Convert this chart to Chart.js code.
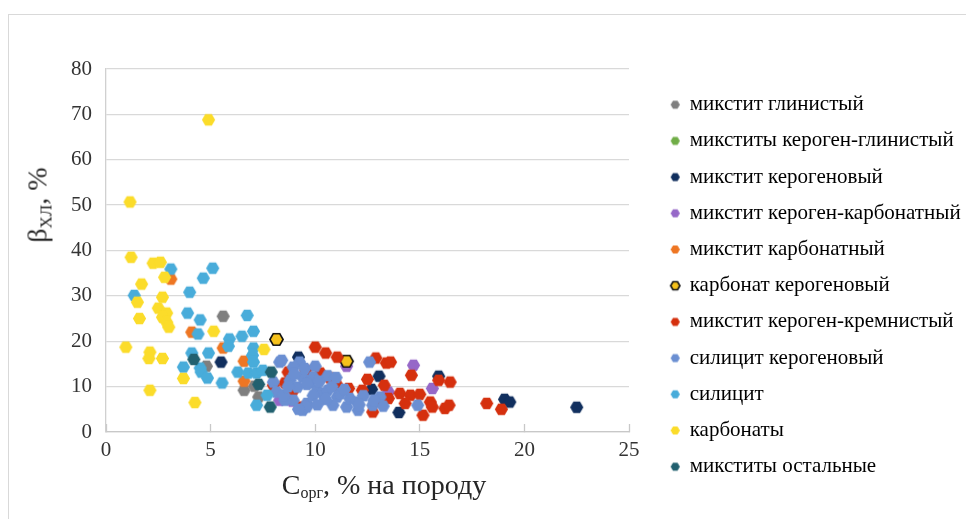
<!DOCTYPE html>
<html>
<head>
<meta charset="utf-8">
<script src="https://cdn.jsdelivr.net/npm/chart.js@4"></script>
<style>
  html, body { margin: 0; padding: 0; background: #fff; overflow: hidden; }
  #wrap { position: relative; width: 966px; height: 519px; }
  #frame { position: absolute; left: 8px; top: 14px; width: 1000px; height: 600px; border: 1px solid #d9d9d9; }
  canvas { position: absolute; left: 0; top: 0; }
  .ttl { position: absolute; font-family: "Liberation Serif", serif; color: #262626; white-space: nowrap; line-height: 1; }
  #xTitle { left: 384px; top: 471px; font-size: 28px; transform: translateX(-50%); }
  #xTitle sub { font-size: 16px; vertical-align: -4px; }
  #yTitle { left: 39px; top: 205px; font-size: 28px; transform: translate(-50%, -50%) rotate(-90deg); }
  #yTitle sub { font-size: 17px; vertical-align: -5px; }
</style>
</head>
<body>
<div id="wrap">
  <div id="frame"></div>
  <canvas id="scatter" width="966" height="519"></canvas>
  <div class="ttl" id="xTitle">C<sub>орг</sub>, % на породу</div>
  <div class="ttl" id="yTitle">β<sub>ХЛ</sub>, %</div>
</div>
<script>
"use strict";

// series names (legend order)
var seriesNames = [
    "микстит глинистый",
    "микститы кероген-глинистый",
    "микстит керогеновый",
    "микстит кероген-карбонатный",
    "микстит карбонатный",
    "карбонат керогеновый",
    "микстит кероген-кремнистый",
    "силицит керогеновый",
    "силицит",
    "карбонаты",
    "микститы остальные"
];

// [Сорг, βХЛ] pairs
var mixClay = [[5.6, 25.5], [4.8, 14.5], [6.6, 9.2], [7.1, 10.1], [7.3, 7.7]];
var mixKerClay = [];
var mixKer = [[5.5, 15.4], [9.2, 16.5], [13.05, 12.3], [15.9, 12.3], [14.0, 4.3], [19.05, 7.2],
    [19.3, 6.6], [22.5, 5.45], [12.7, 9.4]];
var mixKerCarb = [[11.5, 14.5], [14.7, 14.7], [15.6, 9.6], [13.5, 8.8], [8.3, 7.0], [8.9, 6.8]];
var mixCarb = [[3.1, 33.7], [4.1, 22.0], [5.6, 18.5], [6.6, 15.6], [6.6, 11.2]];
var carbKer = [[8.15, 20.4], [11.5, 15.6]];
var mixKerSil = [[10.0, 18.7], [10.5, 17.4], [11.05, 16.5], [12.9, 16.3], [13.4, 15.2], [12.5, 11.6],
    [13.3, 10.3], [11.6, 9.6], [12.25, 9.2], [10.25, 13.0], [10.7, 11.9], [11.05, 10.3], [8.7, 13.2],
    [8.55, 10.8], [9.35, 5.5], [12.75, 4.4], [13.1, 7.0], [13.5, 7.4], [14.6, 12.5], [13.6, 15.4],
    [15.9, 11.4], [16.45, 11.0], [14.05, 8.5], [14.55, 8.1], [15.0, 8.3], [14.3, 6.3], [15.5, 6.6],
    [15.6, 5.5], [15.15, 3.7], [16.2, 5.2], [16.4, 5.9], [18.2, 6.3], [18.9, 5.0], [8.0, 10.3],
    [8.95, 9.2], [9.55, 13.6]];
var silKer = [[8.3, 15.4], [8.0, 11.0], [9.25, 15.4], [8.95, 14.3], [8.8, 11.4], [9.15, 9.9],
    [9.4, 12.1], [9.75, 10.8], [10.1, 9.2], [10.35, 8.5], [11.05, 7.7], [10.85, 5.9], [9.6, 6.3],
    [8.95, 7.0], [8.55, 7.0], [11.5, 5.5], [12.05, 4.8], [11.65, 7.4], [12.0, 6.6], [12.6, 15.4],
    [12.75, 5.9], [13.1, 7.7], [13.25, 5.7], [8.15, 8.8], [9.4, 4.8], [8.4, 15.8], [9.6, 5.5],
    [9.9, 12.1], [10.6, 9.2], [11.2, 8.5], [9.6, 10.5], [10.2, 11.2], [10.6, 12.4], [9.0, 12.8],
    [9.9, 8.0], [10.5, 7.2], [11.4, 9.4], [12.3, 8.0], [12.8, 7.0], [9.2, 5.0], [10.1, 6.0],
    [11.0, 12.0], [8.5, 8.2], [9.5, 14.0], [10.0, 14.5], [8.7, 10.0], [10.8, 10.0], [12.1, 6.0],
    [14.9, 5.9]];
var silicite = [[3.1, 35.9], [4.65, 33.9], [5.1, 36.1], [4.0, 30.8], [1.35, 30.1], [3.9, 26.2],
    [4.5, 24.7], [6.75, 25.7], [4.4, 21.6], [7.05, 22.2], [6.5, 21.1], [5.9, 20.5], [5.85, 18.9],
    [4.1, 17.4], [4.9, 17.4], [7.05, 18.5], [7.0, 16.9], [7.05, 15.4], [3.7, 14.3], [4.5, 14.1],
    [4.55, 13.2], [4.85, 11.9], [5.55, 10.8], [6.3, 13.2], [6.8, 13.0], [7.2, 13.0], [7.5, 13.6],
    [7.7, 8.1], [7.2, 5.9]];
var carbonates = [[4.9, 68.8], [1.15, 50.7], [1.2, 38.5], [2.25, 37.2], [2.6, 37.4], [2.8, 34.1],
    [1.7, 32.6], [2.7, 29.7], [1.5, 28.6], [2.5, 27.3], [2.9, 26.2], [1.6, 25.0], [2.7, 25.3],
    [2.9, 24.2], [3.0, 23.1], [5.15, 22.2], [0.95, 18.7], [2.1, 17.6], [2.05, 16.2], [2.7, 16.2],
    [3.7, 11.8], [2.1, 9.2], [4.25, 6.5], [7.55, 18.2]];
var mixOther = [[4.2, 16.0], [7.9, 13.2], [7.3, 10.5], [7.85, 5.5]];

var seriesData = [mixClay, mixKerClay, mixKer, mixKerCarb, mixCarb, carbKer,
    mixKerSil, silKer, silicite, carbonates, mixOther];
var seriesColors = ["#7f7f7f", "#70ad47", "#112f5e", "#9668c8", "#ee7623", "#f6c21c",
    "#d5300e", "#6b8fd2", "#48acda", "#fbdc2a", "#21606f"];
var seriesBorders = [null, null, null, null, null, "#111111", null, null, null, null, null];

var xTicks = [0, 5, 10, 15, 20, 25];
var yTicks = [0, 10, 20, 30, 40, 50, 60, 70, 80];

// flat-topped hexagon drawn on a small canvas, used as point style
function hexMarker(fill, stroke, r) {
    var size = Math.ceil(r * 2 + 3);
    var c = document.createElement("canvas");
    c.width = size;
    c.height = size;
    var g = c.getContext("2d");
    g.beginPath();
    for (var i = 0; i < 6; i++) {
        var a = Math.PI / 3 * i;
        var px = size / 2 + r * Math.cos(a);
        var py = size / 2 + r * Math.sin(a);
        if (i === 0) g.moveTo(px, py); else g.lineTo(px, py);
    }
    g.closePath();
    g.fillStyle = fill;
    g.fill();
    if (stroke) {
        g.lineWidth = 1.6;
        g.strokeStyle = stroke;
        g.stroke();
    }
    return c;
}

var datasets = [];
var legendIcons = [];
for (var i = 0; i < seriesNames.length; i++) {
    datasets.push({
        label: seriesNames[i],
        data: seriesData[i].map(function (p) { return { x: p[0], y: p[1] }; }),
        backgroundColor: seriesColors[i],
        pointStyle: hexMarker(seriesColors[i], seriesBorders[i], 6.6),
        order: seriesNames.length - i   // later series on top, like the original
    });
    legendIcons.push(hexMarker(seriesColors[i], seriesBorders[i], 4.6));
}

// keep the legend where the original has it
var legendPlace = {
    id: "legendPlace",
    beforeInit: function (chart) {
        var fit = chart.legend.fit;
        chart.legend.fit = function () {
            fit.call(this);
            this.width = 337;
        };
    },
    afterLayout: function (chart) {
        chart.legend.left = 656;
        chart.legend.top = 79;
    }
};

var serif = "'Liberation Serif', 'Times New Roman', serif";

new Chart(document.getElementById("scatter"), {
    type: "scatter",
    data: { datasets: datasets },
    options: {
        responsive: false,
        animation: false,
        layout: { padding: { top: 69, left: 8, right: 0, bottom: 17 } },
        elements: { point: { radius: 6.6, hoverRadius: 6.6 } },
        scales: {
            x: {
                type: "linear",
                min: 0,
                max: 25,
                afterFit: function (scale) { scale.height = 70; },
                afterBuildTicks: function (scale) {
                    scale.ticks = xTicks.map(function (v) { return { value: v }; });
                },
                grid: { drawOnChartArea: false, drawTicks: true, tickLength: -8, tickColor: "#c8c8c8", tickWidth: 1.3 },
                border: { display: true, color: "#c8c8c8", width: 1.3 },
                ticks: { padding: 14, color: "#333", font: { family: serif, size: 21 } }
            },
            y: {
                type: "linear",
                min: 0,
                max: 80,
                afterFit: function (scale) { scale.width = 98; },
                afterBuildTicks: function (scale) {
                    scale.ticks = yTicks.map(function (v) { return { value: v }; });
                },
                grid: { color: "#d9d9d9", lineWidth: 1.3, drawTicks: false },
                border: { display: true, color: "#d0d0d0", width: 1.3 },
                ticks: { padding: 14, color: "#333", font: { family: serif, size: 21 } }
            }
        },
        plugins: {
            tooltip: { enabled: false },
            legend: {
                position: "right",
                align: "start",
                labels: {
                    usePointStyle: true,
                    boxWidth: 8,
                    boxHeight: 8,
                    padding: 15.2,
                    color: "#262626",
                    font: { family: serif, size: 21 },
                    generateLabels: function (chart) {
                        return chart.data.datasets.map(function (ds, i) {
                            return {
                                text: ds.label,
                                fillStyle: ds.backgroundColor,
                                strokeStyle: ds.backgroundColor,
                                lineWidth: 0,
                                pointStyle: legendIcons[i],
                                hidden: false,
                                datasetIndex: i
                            };
                        });
                    }
                }
            }
        }
    },
    plugins: [legendPlace]
});
</script>
</body>
</html>
